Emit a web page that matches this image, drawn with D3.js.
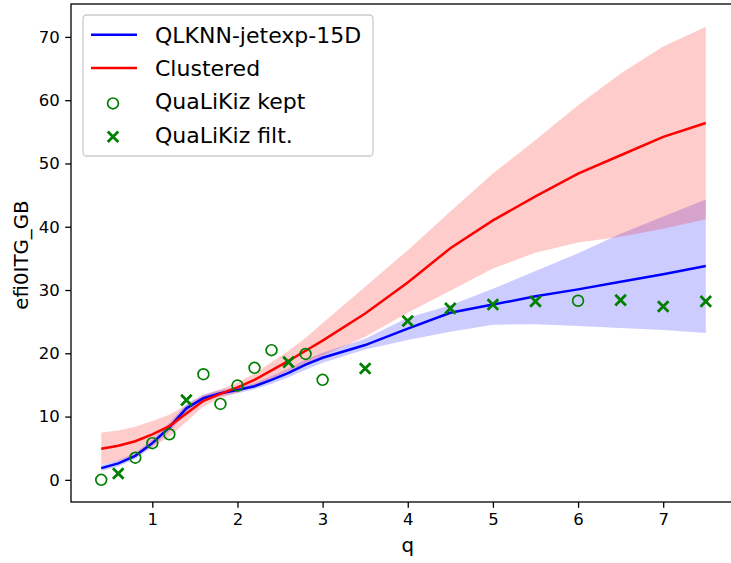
<!DOCTYPE html>
<html>
<head>
<meta charset="utf-8">
<script src="https://cdn.jsdelivr.net/npm/d3@7"></script>
<style>
  body { margin: 0; background: white; }
  text { font-family: "DejaVu Sans", sans-serif; }
</style>
</head>
<body>
<div id="chart"></div>
<script>
// q scan points
const Q = [0.4, 0.6, 0.8, 1.0, 1.2, 1.4, 1.6, 1.8, 2.0, 2.2, 2.4, 2.6, 2.8, 3.0, 3.5, 4.0, 4.5, 5.0, 5.5, 6.0, 6.5, 7.0, 7.5];

// QLKNN-jetexp-15D mean and band
const nnMean  = [1.85, 2.6, 3.8, 5.8, 8.3, 11.3, 12.9, 13.7, 14.2, 14.8, 15.8, 16.9, 18.2, 19.3, 21.3, 23.9, 26.4, 27.7, 29.0, 30.1, 31.3, 32.5, 33.8];
const nnLower = [1.4, 2.1, 3.3, 5.2, 7.6, 10.6, 12.3, 13.2, 13.7, 14.3, 15.2, 16.2, 17.4, 18.5, 20.6, 22.1, 23.4, 24.5, 24.6, 24.3, 24.0, 23.7, 23.2];
const nnUpper = [2.3, 3.1, 4.3, 6.4, 9.0, 12.0, 13.5, 14.2, 14.7, 15.3, 16.4, 17.6, 19.0, 20.1, 22.3, 25.6, 27.6, 30.2, 33.0, 35.8, 38.9, 41.6, 44.3];

// Clustered mean and band
const clMean  = [4.9, 5.4, 6.1, 7.2, 8.5, 10.5, 12.5, 13.6, 14.6, 15.8, 17.3, 18.8, 20.4, 22.0, 26.3, 31.2, 36.6, 41.0, 44.8, 48.4, 51.3, 54.2, 56.4];
const clLower = [2.4, 3.0, 3.9, 5.2, 6.8, 9.2, 11.6, 12.9, 13.8, 14.8, 16.0, 17.2, 18.4, 19.6, 22.6, 26.4, 29.9, 33.4, 35.9, 37.5, 38.4, 39.7, 41.2];
const clUpper = [7.5, 7.8, 8.4, 9.3, 10.3, 11.8, 13.4, 14.3, 15.4, 16.8, 18.6, 20.4, 22.4, 24.8, 30.5, 36.3, 42.4, 48.4, 53.7, 59.2, 64.2, 68.5, 71.6];

// QuaLiKiz points, kept (1) or filtered (0)
const qlk  = [0, 1.0, 3.5, 5.8, 7.2, 12.6, 16.7, 12.0, 14.9, 17.7, 20.5, 18.6, 19.9, 15.8, 17.6, 25.1, 27.1, 27.7, 28.2, 28.3, 28.4, 27.4, 28.2];
const kept = [1, 0, 1, 1, 1, 0, 1, 1, 1, 1, 1, 0, 1, 1, 0, 0, 0, 0, 0, 1, 0, 0, 0];

const xTicks = [1, 2, 3, 4, 5, 6, 7];
const yTicks = [0, 10, 20, 30, 40, 50, 60, 70];

const width = 731;
const height = 563;

const svg = d3.select("#chart")
    .append("svg")
    .attr("width", width)
    .attr("height", height);

const x = d3.scaleLinear().domain([0.045, 7.855]).range([71, 736]);
const y = d3.scaleLinear().domain([-3.5, 75.2]).range([502, 4]);

const idx = d3.range(Q.length);

const area = (lo, hi) => d3.area()
    .x(i => x(Q[i]))
    .y0(i => y(lo[i]))
    .y1(i => y(hi[i]));

const line = vals => d3.line()
    .x(i => x(Q[i]))
    .y(i => y(vals[i]));

// bands (under lines)
svg.append("path").attr("d", area(nnLower, nnUpper)(idx))
    .attr("fill", "blue").attr("fill-opacity", 0.2);
svg.append("path").attr("d", area(clLower, clUpper)(idx))
    .attr("fill", "red").attr("fill-opacity", 0.2);

svg.append("path").attr("d", line(nnMean)(idx))
    .attr("fill", "none").attr("stroke", "blue").attr("stroke-width", 2.5);
svg.append("path").attr("d", line(clMean)(idx))
    .attr("fill", "none").attr("stroke", "red").attr("stroke-width", 2.5);

// markers
const green = "#008000";
svg.selectAll("circle.kept")
    .data(idx.filter(i => kept[i]))
    .enter()
    .append("circle")
    .attr("class", "kept")
    .attr("cx", i => x(Q[i]))
    .attr("cy", i => y(qlk[i]))
    .attr("r", 5.4)
    .attr("fill", "none")
    .attr("stroke", green)
    .attr("stroke-width", 1.7);

const xs = 5.3;
const cross = (cx, cy) => `M${cx - xs},${cy - xs}L${cx + xs},${cy + xs}M${cx - xs},${cy + xs}L${cx + xs},${cy - xs}`;

svg.selectAll("path.filt")
    .data(idx.filter(i => !kept[i]))
    .enter()
    .append("path")
    .attr("class", "filt")
    .attr("d", i => cross(x(Q[i]), y(qlk[i])))
    .attr("stroke", green)
    .attr("stroke-width", 2.8)
    .attr("fill", "none");

// axes
const xAxis = d3.axisBottom(x).tickValues(xTicks).tickSize(5.8).tickPadding(5).tickFormat(d3.format("d"));
const yAxis = d3.axisLeft(y).tickValues(yTicks).tickSize(5.8).tickPadding(5.5).tickFormat(d3.format("d"));

const gx = svg.append("g").attr("transform", "translate(0,502)").call(xAxis);
const gy = svg.append("g").attr("transform", "translate(71,0)").call(yAxis);
[gx, gy].forEach(g => {
    g.select(".domain").remove();
    g.selectAll(".tick line").attr("stroke", "black").attr("stroke-width", 1.3);
    g.selectAll(".tick text").attr("fill", "black").style("font-size", "16.5px")
        .style("font-family", "DejaVu Sans");
});

// spines
svg.append("rect")
    .attr("x", 71).attr("y", 4)
    .attr("width", 665).attr("height", 498)
    .attr("fill", "none").attr("stroke", "black").attr("stroke-width", 1.3);

svg.append("text")
    .attr("x", x(4))
    .attr("y", 552)
    .attr("text-anchor", "middle")
    .style("font-size", "19.8px")
    .text("q");

svg.append("text")
    .attr("transform", "translate(28,255) rotate(-90)")
    .attr("text-anchor", "middle")
    .style("font-size", "19.8px")
    .text("efi0ITG_GB");

// legend
const legend = svg.append("g");
legend.append("rect")
    .attr("x", 83).attr("y", 15)
    .attr("width", 290).attr("height", 141)
    .attr("rx", 3.5)
    .attr("fill", "white").attr("fill-opacity", 0.8)
    .attr("stroke", "#cccccc").attr("stroke-width", 1.3);

const legendItems = [
    { label: "QLKNN-jetexp-15D", type: "line", color: "blue" },
    { label: "Clustered", type: "line", color: "red" },
    { label: "QuaLiKiz kept", type: "circle", color: green },
    { label: "QuaLiKiz filt.", type: "x", color: green }
];

legendItems.forEach((d, i) => {
    const base = 42.7 + i * 33.35;
    const cy = base - 8;
    if (d.type === "line") {
        legend.append("line")
            .attr("x1", 91).attr("x2", 137)
            .attr("y1", cy).attr("y2", cy)
            .attr("stroke", d.color).attr("stroke-width", 2.5);
    } else if (d.type === "circle") {
        legend.append("circle")
            .attr("cx", 113).attr("cy", cy + 2)
            .attr("r", 5.4).attr("fill", "none")
            .attr("stroke", d.color).attr("stroke-width", 1.7);
    } else {
        legend.append("path")
            .attr("d", cross(113, cy + 2))
            .attr("stroke", d.color).attr("stroke-width", 2.8);
    }
    legend.append("text")
        .attr("x", 155)
        .attr("y", base)
        .style("font-size", "22px")
        .text(d.label);
});
</script>
</body>
</html>
